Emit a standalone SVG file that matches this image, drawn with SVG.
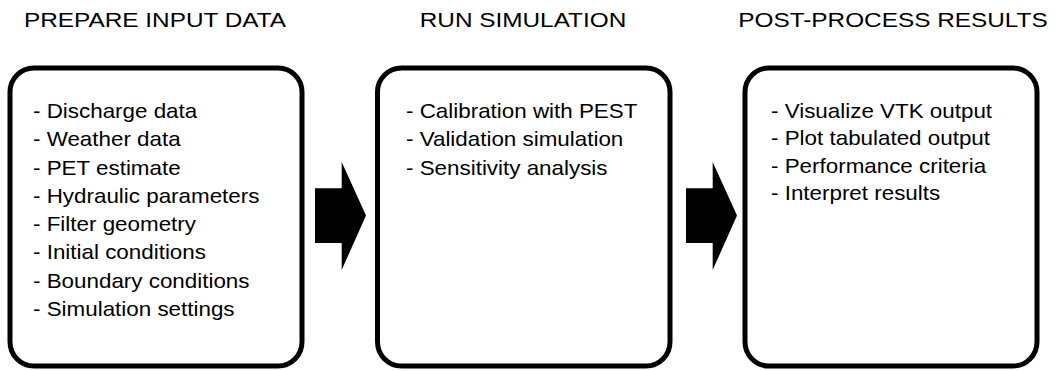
<svg xmlns="http://www.w3.org/2000/svg" width="1059" height="371" viewBox="0 0 1059 371">
<style>
.box{fill:#fff;stroke:#000;stroke-width:5}
.hdr{font-family:"Liberation Sans",Arial,sans-serif;font-size:21px;fill:#000;text-anchor:middle}
.item{font-family:"Liberation Sans",Arial,sans-serif;font-size:20px;fill:#000}
.arrow{fill:#000}
</style>
<defs>
<path id="arr" d="M315,188.3 H341.7 V162 L366,215.5 L341.7,270 V243 H315 Z"/>
</defs>
<rect width="1059" height="371" fill="#fff"/>
<g id="prepare">
<text class="hdr" transform="translate(155,27) scale(1.16,1)">PREPARE INPUT DATA</text>
<rect class="box" x="10" y="68" width="292" height="298" rx="24"/>
<g class="item" transform="translate(33,0) scale(1.12,1)">
<text x="0" y="118">- Discharge data</text>
<text x="0" y="146.3">- Weather data</text>
<text x="0" y="174.6">- PET estimate</text>
<text x="0" y="202.9">- Hydraulic parameters</text>
<text x="0" y="231.2">- Filter geometry</text>
<text x="0" y="259.5">- Initial conditions</text>
<text x="0" y="287.8">- Boundary conditions</text>
<text x="0" y="316.1">- Simulation settings</text>
</g>
</g>
<g id="run">
<text class="hdr" transform="translate(523,27) scale(1.16,1)">RUN SIMULATION</text>
<rect class="box" x="377.5" y="68" width="292.5" height="298" rx="24"/>
<g class="item" transform="translate(406,0) scale(1.12,1)">
<text x="0" y="118">- Calibration with PEST</text>
<text x="0" y="146.3">- Validation simulation</text>
<text x="0" y="174.6">- Sensitivity analysis</text>
</g>
</g>
<g id="post">
<text class="hdr" transform="translate(893,27) scale(1.16,1)">POST-PROCESS RESULTS</text>
<rect class="box" x="745" y="68" width="292" height="298" rx="24"/>
<g class="item" transform="translate(771,0) scale(1.12,1)">
<text x="0" y="118">- Visualize VTK output</text>
<text x="0" y="145.5">- Plot tabulated output</text>
<text x="0" y="173">- Performance criteria</text>
<text x="0" y="200.5">- Interpret results</text>
</g>
</g>
<g id="connectors">
<use href="#arr" class="arrow"/>
<use href="#arr" class="arrow" transform="translate(371,0)"/>
</g>
</svg>
